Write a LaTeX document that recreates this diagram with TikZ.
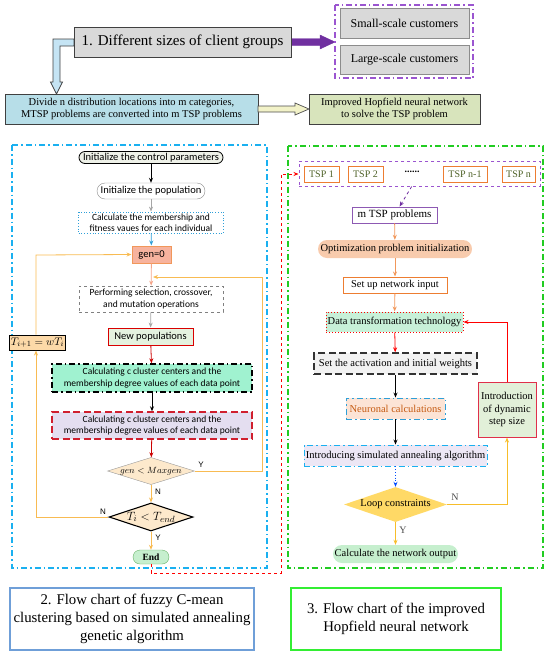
\documentclass[tikz,border=0pt]{standalone}
\usepackage{fontspec}
\setmainfont{Liberation Serif}
\newfontfamily\calfont{Carlito}
\newfontfamily\sansfont{Liberation Sans}
\usetikzlibrary{arrows.meta,shapes.geometric}
\definecolor{cyanp}{HTML}{1AB0F0}
\definecolor{greenp}{HTML}{22CC22}
\definecolor{orl}{HTML}{F8BB52}
\definecolor{purp}{HTML}{7030A0}
\definecolor{purl}{HTML}{9B55D0}
\definecolor{ornb}{HTML}{ED7D31}
\definecolor{tspt}{HTML}{4F6228}
\definecolor{blu}{HTML}{2E9FD8}
\definecolor{hollowblue}{RGB}{197,228,244}
\definecolor{divfill}{RGB}{183,222,232}
\definecolor{impfill}{RGB}{216,228,188}
\definecolor{hollowyel}{RGB}{242,242,200}
\definecolor{inifill}{RGB}{238,241,232}
\definecolor{genfill}{RGB}{247,179,158}
\definecolor{newfill}{RGB}{228,242,223}
\definecolor{mint}{RGB}{160,242,208}
\definecolor{lav}{RGB}{228,222,240}
\definecolor{redd}{RGB}{208,31,46}
\definecolor{beige}{RGB}{253,233,204}
\definecolor{endfill}{RGB}{198,239,206}
\definecolor{tfill}{RGB}{252,217,168}
\definecolor{salm}{RGB}{244,165,138}
\definecolor{optfill}{RGB}{248,203,173}
\definecolor{datafill}{RGB}{199,240,216}
\definecolor{neufill}{RGB}{252,228,214}
\definecolor{neutext}{RGB}{197,90,17}
\definecolor{safill}{RGB}{237,231,245}
\definecolor{goldf}{RGB}{255,217,102}
\definecolor{goldl}{RGB}{247,189,42}
\definecolor{dynred}{RGB}{224,48,74}
\definecolor{dynfill}{RGB}{226,240,217}
\definecolor{cap2c}{RGB}{111,159,216}
\definecolor{cap3c}{RGB}{51,238,51}
\tikzset{
  wh/.style 2 args={minimum width=#1,minimum height=#2,inner sep=1pt,align=center},
  lf/.style={font=\calfont\fontsize{9.5}{11.5}\selectfont},
  lfb/.style={font=\calfont\fontsize{10.5}{12}\selectfont},
  rf/.style={font=\fontsize{10.5}{12.5}\selectfont},
  arr/.style={-{Stealth[length=5pt,width=4pt]},line width=0.8pt},
  lab/.style={font=\sansfont\fontsize{8}{9}\selectfont,inner sep=0pt},
  rlab/.style={font=\fontsize{10}{11}\selectfont,inner sep=0pt,text=black!70},
  dashdot/.style={dash pattern=on 6pt off 3pt on 1.5pt off 3pt},
  longdash/.style={dash pattern=on 7pt off 3.5pt},
  tspn/.style={draw=ornb,line width=0.9pt,fill=white,text=tspt,font=\fontsize{10}{12}\selectfont},
  capf/.style={font=\fontsize{14.8}{18}\selectfont},
}
\begin{document}
\begin{tikzpicture}[x=1pt,y=-1pt]
\useasboundingbox (0,0) rectangle (550,656);
% ---------- top ----------
\filldraw[fill=purp,draw=purp] (291,38.5) -- (320,38.5) -- (320,35) -- (335,42) -- (320,49) -- (320,45.5) -- (291,45.5) -- cycle;
\filldraw[fill=hollowblue,draw=black!75,line width=0.7pt]
  (74,39) -- (53,39) -- (53,82) -- (50.5,82) -- (56.5,94) -- (62.5,82) -- (60,82) -- (60,46) -- (74,46) -- cycle;
\node[wh={217}{30},fill=black!15,draw=black!75,line width=1pt,font=\fontsize{15}{18}\selectfont] (title) at (182.5,42) {1. Different sizes of client groups};
\draw[purl,line width=1.2pt,dashdot] (335,5) rectangle (473,78);
\node[wh={129}{30},fill=black!15,draw=black!45,font=\fontsize{12}{14}\selectfont] (small) at (404.5,23) {Small-scale customers};
\node[wh={129}{29},fill=black!15,draw=black!45,font=\fontsize{12}{14}\selectfont] (large) at (404.5,59.5) {Large-scale customers};
\node[wh={253}{30},fill=divfill,draw=black!75,line width=0.8pt,font=\fontsize{10.5}{12.5}\selectfont] (divide) at (131.5,109) {Divide n distribution locations into m categories,\\MTSP problems are converted into m TSP problems};
\node[wh={171}{30},fill=impfill,draw=black!75,line width=0.8pt,font=\fontsize{10.5}{12.5}\selectfont] (impr) at (394.5,109) {Improved Hopfield neural network\\to solve the TSP problem};
\filldraw[fill=hollowyel,draw=black!70,line width=0.7pt]
  (258,106) -- (295,106) -- (295,103) -- (309,109) -- (295,115) -- (295,112) -- (258,112) -- cycle;
% ---------- panels ----------
\draw[cyanp,line width=1.6pt,dashdot] (12,145) rectangle (267,568);
\draw[greenp,line width=1.4pt,dashdot] (288,146) rectangle (543,568);
% ---------- left flow ----------
\node[wh={144}{12},lfb,inner ysep=0pt,text height=7.5pt,text depth=2pt,draw=black,fill=inifill,rounded corners=6pt,line width=0.8pt] (ini) at (151,157.5) {Initialize the control parameters};
\node[wh={108}{16},lfb,draw=black!45,fill=white,rounded corners=8pt] (pop) at (151,191) {Initialize the population};
\node[wh={145}{21},lf,draw=blu,dotted,line width=0.8pt,fill=white] (calc) at (151,222.5) {Calculate the membership and\\fitness vaues for each individual};
\node[wh={39}{17},lfb,draw=ornb!80,fill=genfill,line width=1pt] (gen) at (151.5,254.5) {gen=0};
\node[wh={144}{26},lf,draw=black!50,dashed,fill=white,line width=0.8pt] (perf) at (151,299) {Performing selection, crossover,\\and mutation operations};
\node[wh={85}{17},lfb,draw=red!85!black,fill=newfill,line width=0.9pt] (newp) at (150.5,336.5) {New populations};
\node[wh={200}{28},lf,draw=black,dashdot,fill=mint,line width=1.4pt] (cc1) at (152,378) {Calculating c cluster centers and the\\membership degree values of each data point};
\node[wh={200}{27},lf,draw=redd,longdash,fill=lav,line width=1.4pt] (cc2) at (152,425.5) {Calculating c cluster centers and the\\membership degree values of each data point};
\node[diamond,shape aspect=3.2,minimum width=84,minimum height=26,inner sep=0pt,draw=black!40,fill=beige,font=\fontsize{9}{10}\selectfont] (d1) at (151,471) {$gen<Maxgen$};
\node[diamond,shape aspect=3.2,minimum width=84,minimum height=28,inner sep=0pt,draw=black,line width=1.1pt,fill=beige,font=\fontsize{13}{14}\selectfont] (d2) at (151,517) {$T_i<T_{end}$};
\node[wh={36}{14},fill=endfill,draw=green!50!black!60,rounded corners=7pt,font=\bfseries\fontsize{9.5}{11}\selectfont] (endn) at (151,557) {End};
\node[wh={49}{15},fill=tfill,draw=black,line width=1pt,font=\fontsize{11}{12}\selectfont] (tb) at (37.5,342.5) {$T_{i+1}=wT_i$};
\draw[arr,black] (ini) -- (pop);
\draw[arr,black!35] (pop) -- (calc);
\draw[arr,blu] (calc) -- (gen);
\draw[arr,salm] (gen) -- (perf);
\draw[arr,black!35] (perf) -- (newp);
\draw[arr,red!80!black] (newp) -- (cc1);
\draw[arr,black] (cc1) -- (cc2);
\draw[arr,red!80!black] (cc2) -- (d1);
\draw[arr,orl] (d1) -- (d2);
\draw[arr,orl] (d2) -- (endn);
\coordinate (yin) at (153,277);
\coordinate (lc1) at (36,517);
\coordinate (lc2) at (36,255);
\draw[arr,orl] (d1.east) -- (262,471) -- (262,277) -- (yin);
\draw[arr,orl] (d2.west) -- (lc1) -- (tb.south -| lc1);
\draw[arr,orl] (tb.north -| lc1) -- (lc2) -- (gen.west);
\node[lab] at (201,465) {Y};
\node[lab] at (158,492) {N};
\node[lab] at (103,512) {N};
\node[lab] at (158,537.5) {Y};
% ---------- right flow ----------
\node[wh={241}{25},draw=purl,dashed,line width=1pt] (tspb) at (419.5,173.5) {};
\node[tspn,wh={35}{16}] (t1) at (321.5,174) {TSP 1};
\node[tspn,wh={35}{16}] (t2) at (365.5,174) {TSP 2};
\node[inner sep=0pt,font=\bfseries\fontsize{10}{12}\selectfont] (dots) at (412,172) {......};
\node[tspn,wh={44}{16}] (t3) at (465,174) {TSP n-1};
\node[tspn,wh={33}{16}] (t4) at (518.5,174) {TSP n};
\node[wh={85}{16},draw=purp!80,line width=0.9pt,font=\fontsize{11}{13}\selectfont] (mtsp) at (394.5,215) {m TSP problems};
\node[wh={154}{18},rf,fill=optfill,rounded corners=9pt] (opt) at (395,249) {Optimization problem initialization};
\node[wh={104}{16},rf,draw=ornb,line width=1pt] (setup) at (395,285) {Set up network input};
\node[wh={137}{20},rf,draw=red,dotted,line width=1pt,fill=datafill] (data) at (394.5,322) {Data transformation technology};
\node[wh={163}{21},rf,draw=black!80,longdash,line width=1.3pt,fill=black!5] (act) at (395.5,363.5) {Set the activation and initial weights};
\node[wh={99}{21},rf,draw=blu,dashdot,line width=0.9pt,fill=neufill,text=neutext] (neu) at (395.5,408.5) {Neuronal calculations};
\node[wh={183}{21},rf,draw=cyanp,dashdot,line width=0.9pt,fill=safill] (sa) at (395.5,455.5) {Introducing simulated annealing algorithm};
\node[diamond,shape aspect=3,minimum width=103,minimum height=35,inner sep=0pt,rf,fill=goldf] (loop) at (395.5,504.5) {Loop constraints};
\node[wh={125}{18},rf,fill=endfill,rounded corners=9pt] (out) at (395.5,554) {Calculate the network output};
\node[wh={58}{55},rf,draw=dynred,line width=1pt,fill=dynfill] (dyn) at (507,409.5) {Introduction\\of dynamic\\step size};
\draw[arr,purp,dashed] (tspb) -- (mtsp);
\draw[arr,ornb!80] (mtsp) -- (opt);
\draw[arr,ornb!80] (opt) -- (setup);
\draw[arr,ornb!80] (setup) -- (data);
\draw[arr,red] (data) -- (act);
\draw[arr,black] (act) -- (neu);
\draw[arr,black] (neu) -- (sa);
\draw[arr,blue!70!cyan,dotted,line width=1pt] (sa) -- (loop);
\draw[arr,goldl] (loop) -- (out);
\draw[arr,goldl] (loop.east) -- (dyn.south |- loop.east) -- (dyn.south);
\draw[arr,red] (dyn.north) -- (dyn.north |- data.east) -- (data.east);
\node[rlab] at (455,497) {N};
\node[rlab] at (403,530) {Y};
% ---------- red dashed link ----------
\coordinate (r1) at (151,573);
\coordinate (r2) at (281,573);
\coordinate (r3) at (281,174);
\draw[arr,red,dashed,line width=0.8pt] (endn.south) -- (r1) -- (r2) -- (r3) -- (tspb.west |- r3);
% ---------- captions ----------
\node[wh={244}{62},draw=cap2c,line width=1.1pt,capf] (cap2) at (132,619) {2. Flow chart of fuzzy C-mean\\clustering based on simulated annealing\\genetic algorithm};
\node[wh={210}{62},draw=cap3c,line width=1.2pt,capf] (cap3) at (396,619) {3. Flow chart of the improved\\Hopfield neural network};
\end{tikzpicture}
\end{document}
